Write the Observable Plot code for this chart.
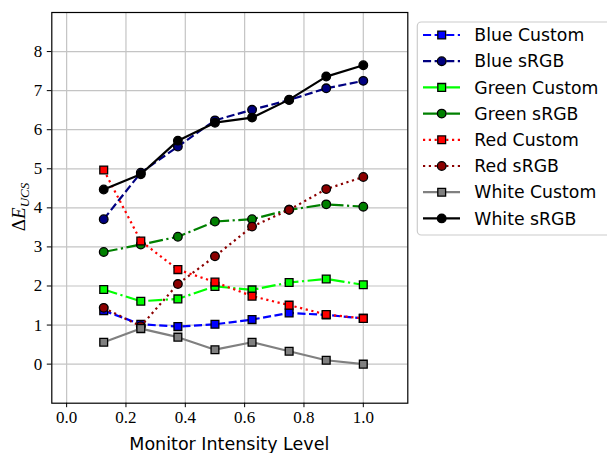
<!DOCTYPE html>
<html>
<head>
<meta charset="utf-8">
<script src="https://cdn.jsdelivr.net/npm/d3@7"></script>
<script src="https://cdn.jsdelivr.net/npm/@observablehq/plot@0.6"></script>
<style>
  html, body { margin: 0; padding: 0; background: white; }
  #chart svg { display: block; }
</style>
</head>
<body>
<div id="chart"></div>
<script>
// ---- data ----
const levels = [0.125, 0.25, 0.375, 0.5, 0.625, 0.75, 0.875, 1.0];
const seriesNames = ["Blue Custom", "Blue sRGB", "Green Custom", "Green sRGB", "Red Custom", "Red sRGB", "White Custom", "White sRGB"];
const blueCustom  = [1.37, 1.02, 0.96, 1.02, 1.14, 1.31, 1.26, 1.17];
const blueSRGB    = [3.71, 4.90, 5.57, 6.24, 6.51, 6.76, 7.06, 7.25];
const greenCustom = [1.91, 1.61, 1.67, 1.99, 1.90, 2.09, 2.18, 2.03];
const greenSRGB   = [2.87, 3.06, 3.26, 3.65, 3.71, 3.95, 4.09, 4.03];
const redCustom   = [4.97, 3.15, 2.42, 2.10, 1.74, 1.51, 1.27, 1.17];
const redSRGB     = [1.44, 0.97, 2.05, 2.76, 3.52, 3.95, 4.48, 4.79];
const whiteCustom = [0.56, 0.91, 0.69, 0.37, 0.56, 0.33, 0.10, 0.00];
const whiteSRGB   = [4.47, 4.86, 5.72, 6.18, 6.31, 6.77, 7.36, 7.65];
const xTicks = [0.0, 0.2, 0.4, 0.6, 0.8, 1.0];
const yTicks = [0, 1, 2, 3, 4, 5, 6, 7, 8];

// ---- styles ----
const seriesValues = [blueCustom, blueSRGB, greenCustom, greenSRGB, redCustom, redSRGB, whiteCustom, whiteSRGB];
const colors = ["#0000ff", "#000080", "#00ff00", "#008000", "#ff0000", "#8b0000", "#808080", "#000000"];
const symbols = ["square", "circle", "square", "circle", "square", "circle", "square", "circle"];
const dashes = ["8.1,3.5", "8.1,3.5", "14,3.5,2.2,3.5", "14,3.5,2.2,3.5", "2.2,3.6", "2.2,3.6", null, null];

const series = seriesNames.map((name, i) => ({
  name, color: colors[i], symbol: symbols[i], dash: dashes[i],
  data: levels.map((x, j) => ({x, y: seriesValues[i][j]}))
}));

const W = 607, H = 453;
const mL = 51.3, mR = W - 407.3, mT = 12, mB = H - 402.7;
const LW = 2.2;

const marks = [
  Plot.gridX(xTicks, {stroke: "#c4c4c4", strokeOpacity: 1, strokeWidth: 1.2}),
  Plot.gridY(yTicks, {stroke: "#c4c4c4", strokeOpacity: 1, strokeWidth: 1.2}),
];
for (const s of series) {
  marks.push(Plot.line(s.data, {x: "x", y: "y", stroke: s.color, strokeWidth: LW,
    strokeDasharray: s.dash || undefined, strokeLinecap: "butt", strokeLinejoin: "round"}));
  marks.push(Plot.dot(s.data, {x: "x", y: "y", symbol: () => s.symbol, fill: s.color,
    stroke: "black", strokeWidth: 1.3, r: s.symbol === "square" ? 4.4 : 4.3}));
}
marks.push(Plot.frame({stroke: "black", strokeWidth: 1.2}));
marks.push(Plot.axisX(xTicks, {tickFormat: d3.format(".1f"), tickSize: 4.5, tickPadding: 3, label: null}));
marks.push(Plot.axisY(yTicks, {tickFormat: d3.format("d"), tickSize: 4.5, tickPadding: 5, label: null}));

const chart = Plot.plot({
  width: W, height: H,
  marginLeft: mL, marginRight: mR, marginTop: mT, marginBottom: mB,
  x: {domain: [-0.05, 1.15]},
  y: {domain: [-1, 9]},
  symbol: {type: "identity"},
  style: {background: "white", color: "black", overflow: "visible"},
  marks
});
document.getElementById("chart").appendChild(chart);

const svg = d3.select(chart);
// tick labels: serif, larger
svg.selectAll("text")
  .attr("font-family", "Liberation Serif").attr("font-size", 17)
  .style("font-family", "Liberation Serif").style("font-size", "17px");
svg.selectAll("g")
  .filter(function () { return this.querySelector("text"); })
  .attr("font-family", "Liberation Serif").attr("font-size", 17);

// x axis title
svg.append("text")
  .attr("x", (mL + (W - mR)) / 2).attr("y", 449.5)
  .attr("text-anchor", "middle")
  .style("font-family", "DejaVu Sans").style("font-size", "17.5px")
  .attr("fill", "black")
  .text("Monitor Intensity Level");

// y axis title: ΔE_UCS
const yl = svg.append("text")
  .attr("transform", "translate(25,207) rotate(-90)")
  .attr("text-anchor", "middle")
  .style("font-family", "Liberation Serif").style("font-size", "19px")
  .attr("fill", "black");
yl.append("tspan").text("Δ");
yl.append("tspan").attr("font-style", "italic").text("E");
yl.append("tspan").attr("font-style", "italic").style("font-size", "13px").attr("dy", 4).text("UCS");

// legend
const lg = svg.append("g");
lg.append("rect").attr("x", 417.3).attr("y", 22).attr("width", 210).attr("height", 213)
  .attr("rx", 4).attr("fill", "white").attr("fill-opacity", 0.85)
  .attr("stroke", "#cccccc").attr("stroke-width", 1.2);
series.forEach((s, i) => {
  const cy = 35 + i * 26.2;
  lg.append("line").attr("x1", 423).attr("x2", 460).attr("y1", cy).attr("y2", cy)
    .attr("stroke", s.color).attr("stroke-width", LW)
    .attr("stroke-dasharray", s.dash || null);
  const r = s.symbol === "square" ? 4.4 : 4.3;
  lg.append("path")
    .attr("d", d3.symbol(s.symbol === "square" ? d3.symbolSquare : d3.symbolCircle, Math.PI * r * r)())
    .attr("transform", `translate(441.7,${cy})`)
    .attr("fill", s.color).attr("stroke", "black").attr("stroke-width", 1.3);
  lg.append("text").attr("x", 474.3).attr("y", cy).attr("dy", "0.36em")
    .attr("text-anchor", "start")
    .style("font-family", "DejaVu Sans").style("font-size", "17.3px").attr("fill", "black")
    .text(s.name);
});
</script>
</body>
</html>
